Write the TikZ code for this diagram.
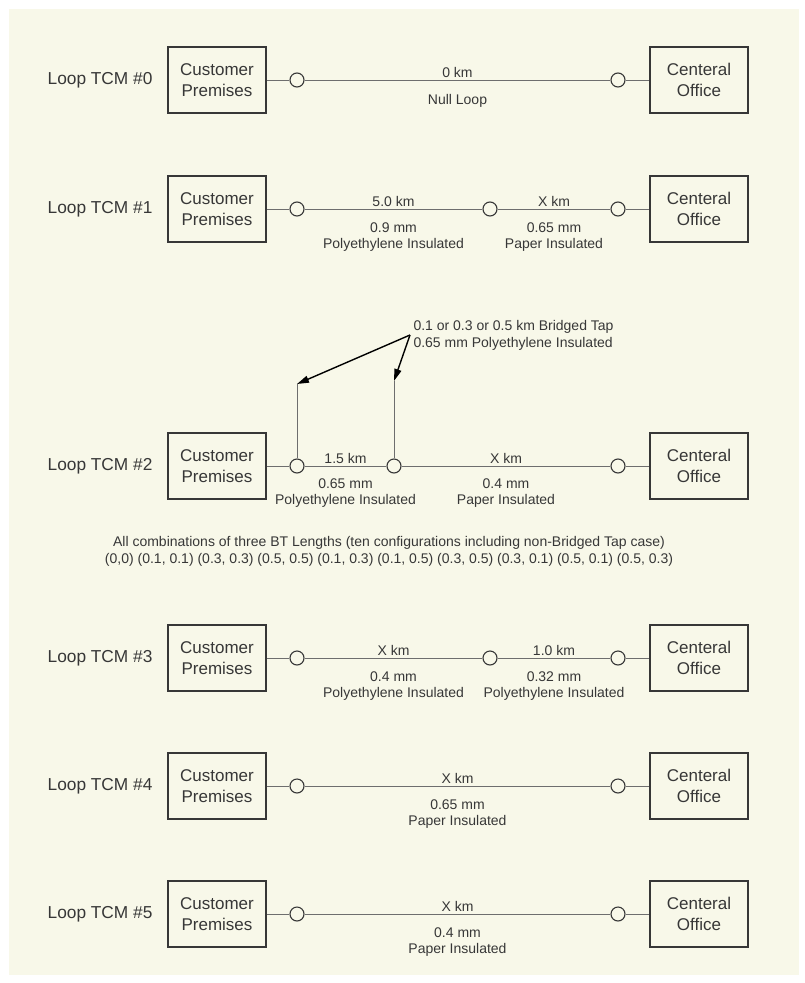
\documentclass[tikz,border=0pt]{standalone}
\usepackage{fontspec}
\setmainfont{Liberation Sans}
\usetikzlibrary{positioning, arrows.meta, calc}
\definecolor{paper}{RGB}{248,248,233}
\definecolor{wirecol}{RGB}{110,110,110}
\definecolor{ink}{RGB}{55,55,55}

\begin{document}
\begin{tikzpicture}[x=1pt, y=-1pt,
	box/.style={draw=ink, line width=1.3pt, minimum width=98pt, minimum height=66pt, align=center, inner sep=0pt, font=\fontsize{17}{21}\selectfont, text=ink},
	port/.style={circle, draw=ink, line width=1.1pt, fill=paper, minimum size=14pt, inner sep=0pt},
	loopname/.style={anchor=east, font=\fontsize{17.3}{20}\selectfont, text=ink},
	wire/.style={draw=wirecol, line width=0.8pt},
	lbl/.style={font=\fontsize{14}{16}\selectfont, text=ink, align=center},
	tap/.style={-{Triangle[length=12pt, width=7pt]}, line width=1.4pt, black}]
	
	% Background
	\fill[white] (0,0) rectangle (804,983);
	\fill[paper] (9,9) rectangle (799,975);
	\useasboundingbox (0,0) rectangle (804,983);
	
	% Loop TCM #0
	\node[loopname] (name0) at (156,80) {Loop TCM \#0};
	\node[box] (cp0) at (217,80) {Customer\\Premises};
	\node[box] (co0) at (699,80) {Centeral\\Office};
	\node[port] (a0) at (297,80) {};
	\node[port] (c0) at (618,80) {};
	\draw[wire] (cp0) -- (a0);
	\draw[wire] (a0) -- node[lbl, above=-1pt] {0 km} node[lbl, below=11pt] {Null Loop} (c0);
	\draw[wire] (c0) -- (co0);
	
	% Loop TCM #1
	\node[loopname] (name1) at (156,209) {Loop TCM \#1};
	\node[box] (cp1) at (217,209) {Customer\\Premises};
	\node[box] (co1) at (699,209) {Centeral\\Office};
	\node[port] (a1) at (297,209) {};
	\node[port] (b1) at (490,209) {};
	\node[port] (c1) at (618,209) {};
	\draw[wire] (cp1) -- (a1);
	\draw[wire] (a1) -- node[lbl, above=-1pt] {5.0 km} node[lbl, below=10pt] {0.9 mm\\Polyethylene Insulated} (b1);
	\draw[wire] (b1) -- node[lbl, above=-1pt] {X km} node[lbl, below=10pt] {0.65 mm\\Paper Insulated} (c1);
	\draw[wire] (c1) -- (co1);
	
	% Loop TCM #2 with bridged taps
	\node[loopname] (name2) at (156,466) {Loop TCM \#2};
	\node[box] (cp2) at (217,466) {Customer\\Premises};
	\node[box] (co2) at (699,466) {Centeral\\Office};
	\node[port] (a2) at (297,466) {};
	\node[port] (b2) at (394,466) {};
	\node[port] (c2) at (618,466) {};
	\draw[wire] (cp2) -- (a2);
	\draw[wire] (a2) -- node[lbl, above=-1pt] {1.5 km} node[lbl, below=9pt] {0.65 mm\\Polyethylene Insulated} (b2);
	\draw[wire] (b2) -- node[lbl, above=-1pt] {X km} node[lbl, below=9pt] {0.4 mm\\Paper Insulated} (c2);
	\draw[wire] (c2) -- (co2);
	
	\coordinate (tapL) at (297,384);
	\coordinate (tapR) at (394,381);
	\draw[wire] (a2) -- (tapL);
	\draw[wire] (b2) -- (tapR);
	\node[lbl, align=left, anchor=west, font=\fontsize{14}{17}\selectfont] (btnote) at (410,335) {0.1 or 0.3 or 0.5 km Bridged Tap\\0.65 mm Polyethylene Insulated};
	\draw[tap] (btnote.west) -- (tapL);
	\draw[tap] (btnote.west) -- (tapR);
	
	\node[lbl, font=\fontsize{14}{17}\selectfont] (btcases) at (389,551.5) {All combinations of three BT Lengths (ten configurations including non-Bridged Tap case)\\(0,0) (0.1, 0.1) (0.3, 0.3) (0.5, 0.5) (0.1, 0.3) (0.1, 0.5) (0.3, 0.5) (0.3, 0.1) (0.5, 0.1) (0.5, 0.3)};
	
	% Loop TCM #3
	\node[loopname] (name3) at (156,658) {Loop TCM \#3};
	\node[box] (cp3) at (217,658) {Customer\\Premises};
	\node[box] (co3) at (699,658) {Centeral\\Office};
	\node[port] (a3) at (297,658) {};
	\node[port] (b3) at (490,658) {};
	\node[port] (c3) at (618,658) {};
	\draw[wire] (cp3) -- (a3);
	\draw[wire] (a3) -- node[lbl, above=-1pt] {X km} node[lbl, below=10pt] {0.4 mm\\Polyethylene Insulated} (b3);
	\draw[wire] (b3) -- node[lbl, above=-1pt] {1.0 km} node[lbl, below=10pt] {0.32 mm\\Polyethylene Insulated} (c3);
	\draw[wire] (c3) -- (co3);
	
	% Loop TCM #4
	\node[loopname] (name4) at (156,786) {Loop TCM \#4};
	\node[box] (cp4) at (217,786) {Customer\\Premises};
	\node[box] (co4) at (699,786) {Centeral\\Office};
	\node[port] (a4) at (297,786) {};
	\node[port] (c4) at (618,786) {};
	\draw[wire] (cp4) -- (a4);
	\draw[wire] (a4) -- node[lbl, above=-1pt] {X km} node[lbl, below=10pt] {0.65 mm\\Paper Insulated} (c4);
	\draw[wire] (c4) -- (co4);
	
	% Loop TCM #5
	\node[loopname] (name5) at (156,914) {Loop TCM \#5};
	\node[box] (cp5) at (217,914) {Customer\\Premises};
	\node[box] (co5) at (699,914) {Centeral\\Office};
	\node[port] (a5) at (297,914) {};
	\node[port] (c5) at (618,914) {};
	\draw[wire] (cp5) -- (a5);
	\draw[wire] (a5) -- node[lbl, above=-1pt] {X km} node[lbl, below=10pt] {0.4 mm\\Paper Insulated} (c5);
	\draw[wire] (c5) -- (co5);
\end{tikzpicture}
\end{document}
